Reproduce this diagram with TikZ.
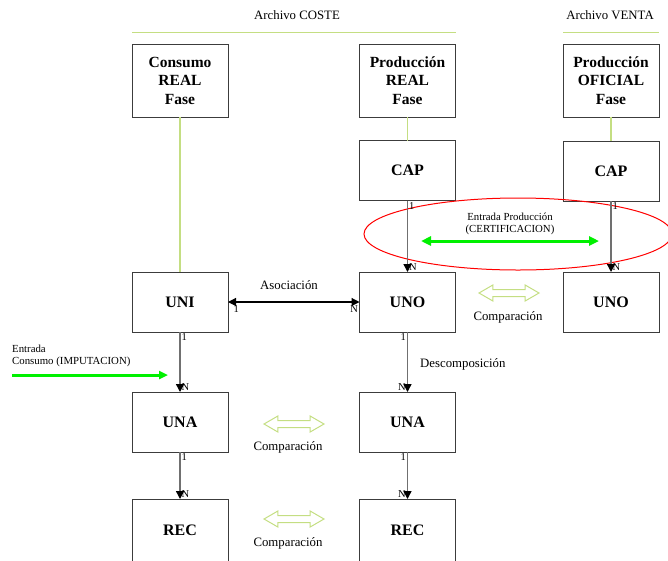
\documentclass[tikz,border=0pt]{standalone}
\usepackage{fontspec}
\setmainfont{Liberation Serif}
\usetikzlibrary{arrows.meta,shapes.arrows}
\definecolor{lgreen}{RGB}{196,222,130}
\definecolor{bgreen}{RGB}{0,240,0}
\definecolor{cgray}{RGB}{112,112,112}
\definecolor{bgray}{RGB}{60,60,60}
\tikzset{
  box/.style={draw=bgray, line width=1pt, minimum width=96pt, minimum height=60pt, inner sep=0pt, outer sep=0pt, font=\bfseries\fontsize{16}{18}\selectfont, align=center},
  tallbox/.style={box, minimum height=73pt, font=\bfseries\fontsize{15.5}{18.5}\selectfont},
  lbl/.style={font=\fontsize{12.8}{14}\selectfont, inner sep=0pt},
  card/.style={font=\fontsize{10.5}{11}\selectfont, inner sep=1pt},
  conn/.style={draw=cgray, line width=1.4pt, -{Triangle[length=8pt,width=8pt,color=black]}},
  greenline/.style={draw=lgreen, line width=1.6pt},
  bigarrow/.style={draw=bgreen, line width=3pt},
  cmp/.style={double arrow, draw=lgreen, line width=1pt, minimum height=60pt, minimum width=15pt, inner sep=3pt, double arrow head extend=4.5pt, double arrow tip angle=60, outer sep=0pt},
}
\begin{document}
\begin{tikzpicture}[x=1pt,y=-1pt]
\useasboundingbox (0,0) rectangle (668,560);
% headers
\node[lbl] (hcoste) at (297,15) {Archivo COSTE};
\node[lbl] (hventa) at (610,15) {Archivo VENTA};
\coordinate (cl1) at (132,32.5);
\coordinate (cl2) at (456,32.5);
\coordinate (vl1) at (563,32.5);
\coordinate (vl2) at (659,32.5);
\draw[greenline] (cl1) -- (cl2);
\draw[greenline] (vl1) -- (vl2);
% boxes
\node[tallbox] (cons) at (180,80.5) {Consumo\\REAL\\Fase};
\node[tallbox] (prodr) at (407.5,80.5) {Producción\\REAL\\Fase};
\node[tallbox] (prodo) at (611,80.5) {Producción\\OFICIAL\\Fase};
\node[box] (cap1) at (407.5,170.5) {CAP};
\node[box] (cap2) at (611,171) {CAP};
\node[box] (uni) at (180,302) {UNI};
\node[box] (uno1) at (407.5,302) {UNO};
\node[box] (uno2) at (611,302) {UNO};
\node[box] (una1) at (180,422) {UNA};
\node[box] (una2) at (407.5,422) {UNA};
\node[box, minimum height=62pt] (rec1) at (180,530) {REC};
\node[box, minimum height=62pt] (rec2) at (407.5,530) {REC};
% green vertical lines
\draw[greenline, line width=1.3pt] (cons.south) -- (uni.north);
\draw[greenline, line width=1.3pt] (prodr.south) -- (cap1.north);
\draw[greenline, line width=1.3pt] (prodo.south) -- (cap2.north);
% ellipse
\draw[red, line width=1pt] (518,234) ellipse [x radius=154pt, y radius=36pt];
\node[font=\fontsize{10.8}{12}\selectfont, align=center, inner sep=0pt] (eprod) at (510,224) {Entrada Producción\\(CERTIFICACION)};
\coordinate (ep1) at (421,241);
\coordinate (ep2) at (599,241);
\draw[bigarrow, {Triangle[length=10pt,width=9pt]}-{Triangle[length=10pt,width=9pt]}] (ep1) -- (ep2);
% connectors
\draw[conn] (cap1.south) -- (uno1.north)
  node[card, pos=0, anchor=north west] {1}
  node[card, pos=1, anchor=south west] {N};
\draw[conn] (cap2.south) -- (uno2.north)
  node[card, pos=0, anchor=north west] {1}
  node[card, pos=1, anchor=south west] {N};
\draw[conn] (uni.south) -- (una1.north)
  node[card, pos=0, anchor=north west] {1}
  node[card, pos=1, anchor=south west] {N};
\draw[conn] (uno1.south) -- (una2.north)
  node[card, pos=0, anchor=north east] {1}
  node[card, pos=1, anchor=south east] {N};
\draw[conn] (una1.south) -- (rec1.north)
  node[card, pos=0, anchor=north west] {1}
  node[card, pos=1, anchor=south west] {N};
\draw[conn] (una2.south) -- (rec2.north)
  node[card, pos=0, anchor=north east] {1}
  node[card, pos=1, anchor=south east] {N};
% association
\draw[draw=black, line width=1.2pt, {Triangle[length=8pt,width=8pt]}-{Triangle[length=8pt,width=8pt]}] (uni.east) -- (uno1.west)
  node[card, pos=0, anchor=north west, xshift=4pt, yshift=-2pt] {1}
  node[card, pos=1, anchor=north east, yshift=-2pt] {N};
\node[lbl] (asoc) at (289,285) {Asociación};
\node[lbl, anchor=west] (desc) at (420,364) {Descomposición};
% entrada consumo
\node[font=\fontsize{10.8}{12.5}\selectfont, align=left, anchor=west, inner sep=0pt] (econs) at (12,356) {Entrada\\Consumo (IMPUTACION)};
\coordinate (ec1) at (12,375);
\coordinate (ec2) at (168,375);
\draw[bigarrow, -{Triangle[length=9pt,width=8pt]}] (ec1) -- (ec2);
% comparisons
\node[cmp] (cmp1) at (509,293) {};
\node[lbl] (cmpl1) at (508,317) {Comparación};
\node[cmp] (cmp2) at (294,424) {};
\node[lbl] (cmpl2) at (288,447) {Comparación};
\node[cmp] (cmp3) at (294,519) {};
\node[lbl] (cmpl3) at (288,543) {Comparación};
\end{tikzpicture}
\end{document}
